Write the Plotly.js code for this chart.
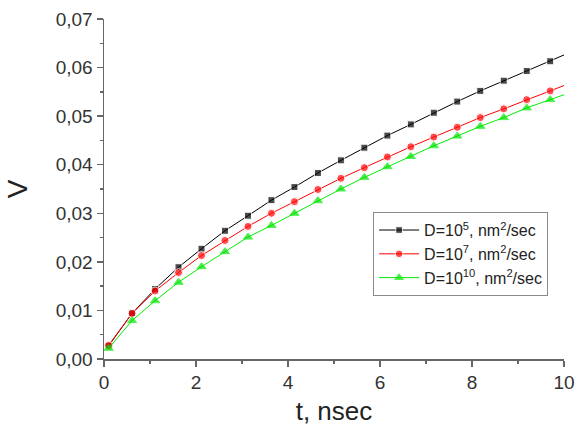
<!DOCTYPE html>
<html>
<head>
<meta charset="utf-8">
<script src="https://cdn.plot.ly/plotly-3.0.1.min.js"></script>
<style>html,body{margin:0;padding:0;background:#fff;}#chart{width:576px;height:432px;}</style>
</head>
<body>
<div id="chart"></div>
<script>
// time values (nsec) at the plotted points; last value is the line end
var tValues = [0.10, 0.61, 1.11, 1.62, 2.12, 2.63, 3.13, 3.64, 4.14, 4.65, 5.15, 5.66, 6.16, 6.67, 7.17, 7.68, 8.18, 8.69, 9.19, 9.70, 10.0];
var vD5  = [0.0027, 0.0094, 0.0144, 0.0189, 0.0227, 0.0264, 0.0295, 0.0327, 0.0354, 0.0383, 0.0409, 0.0435, 0.0460, 0.0483, 0.0507, 0.0530, 0.0552, 0.0573, 0.0593, 0.0613, 0.0626];
var vD7  = [0.0028, 0.0094, 0.0140, 0.0178, 0.0213, 0.0244, 0.0273, 0.0300, 0.0324, 0.0349, 0.0372, 0.0394, 0.0416, 0.0437, 0.0457, 0.0477, 0.0497, 0.0515, 0.0534, 0.0552, 0.0563];
var vD10 = [0.0022, 0.0079, 0.0120, 0.0158, 0.0190, 0.0221, 0.0251, 0.0275, 0.0300, 0.0326, 0.0350, 0.0374, 0.0396, 0.0417, 0.0439, 0.0459, 0.0479, 0.0497, 0.0517, 0.0534, 0.0544];
var seriesNames = ['D=10<sup>5</sup>, nm<sup>2</sup>/sec', 'D=10<sup>7</sup>, nm<sup>2</sup>/sec', 'D=10<sup>10</sup>, nm<sup>2</sup>/sec'];
var yTickVals = [0, 0.01, 0.02, 0.03, 0.04, 0.05, 0.06, 0.07];
var xTickVals = [0, 2, 4, 6, 8, 10];

function sizes(n, s) { var a = []; for (var i = 0; i < n; i++) a.push(i === n - 1 ? 0 : s); return a; }

var traces = [
  {x: tValues, y: vD5, name: seriesNames[0], mode: 'lines+markers',
   line: {color: '#000000', width: 1}, marker: {symbol: 'square', color: '#000000', size: sizes(tValues.length, 7)}, cliponaxis: false},
  {x: tValues, y: vD7, name: seriesNames[1], mode: 'lines+markers',
   line: {color: '#ff0000', width: 1}, marker: {symbol: 'circle', color: '#ff0000', size: sizes(tValues.length, 8)}, cliponaxis: false},
  {x: tValues, y: vD10, name: seriesNames[2], mode: 'lines+markers',
   line: {color: '#00ee00', width: 1}, marker: {symbol: 'triangle-up', color: '#00dd00', size: sizes(tValues.length, 8)}, cliponaxis: false}
];

var layout = {
  width: 576, height: 432,
  margin: {l: 104, r: 12, t: 19, b: 73},
  paper_bgcolor: '#ffffff', plot_bgcolor: '#ffffff',
  separators: ',.',
  font: {family: 'Liberation Sans, Arial, sans-serif', color: '#333333'},
  showlegend: true,
  legend: {
    x: 0.585, y: 0.432, xanchor: 'left', yanchor: 'top',
    bordercolor: '#8a8a8a', borderwidth: 1, bgcolor: '#ffffff',
    itemwidth: 40,
    font: {size: 16, color: '#222222'}
  },
  xaxis: {
    range: [0, 10], tickvals: xTickVals, ticktext: xTickVals.map(String),
    showgrid: false, zeroline: false, showline: true, linecolor: '#666666', linewidth: 1.5,
    ticks: 'outside', ticklen: 6, tickwidth: 1.5, tickcolor: '#666666',
    tickfont: {size: 19, color: '#333333'},
    minor: {ticks: 'outside', ticklen: 3, tickwidth: 1.5, tickcolor: '#666666', dtick: 1, tick0: 0},
    title: {text: 't, nsec', font: {size: 26, color: '#222222'}, standoff: 9}
  },
  yaxis: {
    range: [0, 0.07], tickvals: yTickVals, tickformat: '.2f',
    showgrid: false, zeroline: false, showline: true, linecolor: '#666666', linewidth: 1.5,
    ticks: 'outside', ticklen: 6, tickwidth: 1.5, tickcolor: '#666666',
    tickfont: {size: 19, color: '#333333'},
    minor: {ticks: 'outside', ticklen: 3, tickwidth: 1.5, tickcolor: '#666666', dtick: 0.005, tick0: 0},
    title: {text: 'V', font: {size: 28, color: '#222222'}, standoff: 20}
  }
};

Plotly.newPlot('chart', traces, layout, {displayModeBar: false, staticPlot: true});
</script>
</body>
</html>
